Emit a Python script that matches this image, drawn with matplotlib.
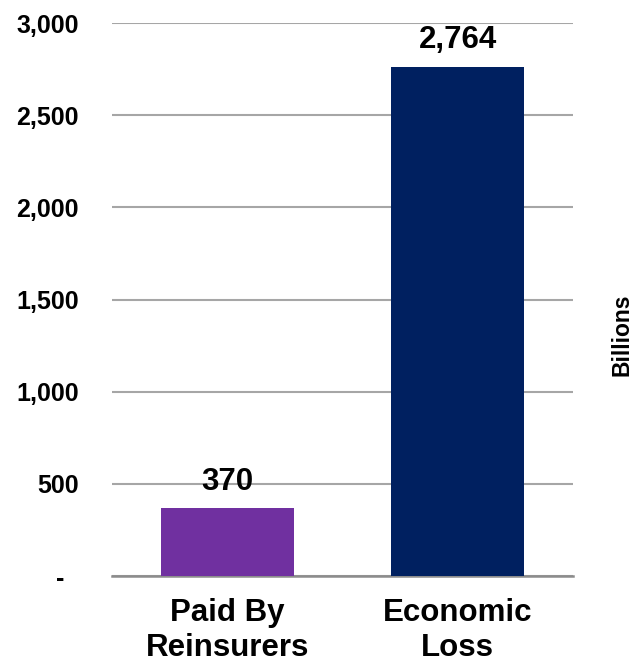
import numpy as np
import matplotlib.pyplot as plt
from matplotlib.ticker import FuncFormatter

plt.rcParams['font.family'] = ['Liberation Sans', 'DejaVu Sans']
plt.rcParams['font.weight'] = 'bold'

categories = ['Paid By\nReinsurers', 'Economic\nLoss']
values = [370, 2764]
colors = ['#7030A0', '#002060']
yticks = [0, 500, 1000, 1500, 2000, 2500, 3000]

fig = plt.figure(figsize=(6.34, 6.66), dpi=100)
ax = fig.add_axes([0.1767, 0.1351, 0.7271, 0.8303])

x = np.arange(len(categories))
ax.bar(x, values, width=0.575, color=colors, zorder=3)

for xi, v in zip(x, values):
    ax.annotate(f'{v:,}', (xi, v), xytext=(0, 13), textcoords='offset points',
                ha='center', va='baseline', fontsize=22.5, fontweight='bold')

ax.set_xlim(-0.5, 1.5)
ax.set_ylim(0, 3000)
ax.set_yticks(yticks)

def fmt(v, pos):
    if v == 0:
        return '-  '
    return f'{int(v):,}'

ax.yaxis.set_major_formatter(FuncFormatter(fmt))
ax.set_xticks(x)
ax.set_xticklabels(categories, fontsize=22.5, fontweight='bold', linespacing=1.2)
ax.tick_params(axis='y', length=0, pad=24, labelsize=18)
ax.tick_params(axis='x', length=0, pad=16)

ax.grid(axis='y', color='#A6A6A6', linewidth=1.5, zorder=0)
for s in ['left', 'right', 'top']:
    ax.spines[s].set_visible(False)
ax.spines['bottom'].set_color('#8C8C8C')
ax.spines['bottom'].set_linewidth(1.8)

fig.text(0.981, 0.497, 'Billions', rotation=90, ha='center', va='center',
         fontsize=16.5, fontweight='bold')

fig.savefig('out.png', dpi=100)
